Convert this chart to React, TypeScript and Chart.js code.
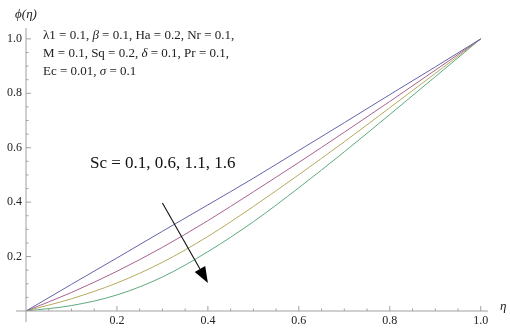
import React, { useEffect, useRef } from "react";
import { Chart, registerables } from "chart.js";

Chart.register(...registerables);

const eta = [0, 0.1, 0.2, 0.3, 0.4, 0.5, 0.6, 0.7, 0.8, 0.9, 1.0];
const phiSc01 = [0, 0.098, 0.195, 0.293, 0.39, 0.488, 0.59, 0.692, 0.795, 0.897, 1.0];
const phiSc06 = [0, 0.068, 0.146, 0.234, 0.332, 0.438, 0.546, 0.657, 0.77, 0.885, 1.0];
const phiSc11 = [0, 0.045, 0.103, 0.179, 0.274, 0.384, 0.501, 0.622, 0.747, 0.873, 1.0];
const phiSc16 = [0, 0.02, 0.059, 0.125, 0.218, 0.328, 0.453, 0.585, 0.722, 0.861, 1.0];

const xTickLabels = [0.2, 0.4, 0.6, 0.8, 1.0];
const yTickLabels = [0.2, 0.4, 0.6, 0.8, 1.0];

const paramLines = [
  "λ1 = 0.1, β = 0.1, Ha = 0.2, Nr = 0.1,",
  "M = 0.1, Sq = 0.2, δ = 0.1, Pr = 0.1,",
  "Ec = 0.01, σ = 0.1",
];
const scLabel = "Sc = 0.1, 0.6, 1.1, 1.6";
const arrowStart = { x: 0.3, y: 0.397 };
const arrowEnd = { x: 0.4, y: 0.103 };

const colors = ["#6464aa", "#a86290", "#b4aa5e", "#5caa7c"];

const serif = "'Liberation Serif', 'DejaVu Serif', serif";
const italicChars = "βδσ";

const decorPlugin = {
  id: "decor",
  afterDatasetsDraw(chart: any) {
    const { ctx, scales } = chart;
    const xs = scales.x;
    const ys = scales.y;
    const x0 = xs.getPixelForValue(0);
    const y0 = ys.getPixelForValue(0);
    ctx.save();
    // axes
    ctx.strokeStyle = "#a0a0a0";
    ctx.lineWidth = 1;
    ctx.beginPath();
    ctx.moveTo(x0 - 10, y0);
    ctx.lineTo(xs.right, y0);
    ctx.moveTo(x0, y0 + 11);
    ctx.lineTo(x0, ys.top);
    ctx.stroke();
    // ticks (inward)
    ctx.beginPath();
    for (let i = 1; i <= 20; i++) {
      const v = i * 0.05;
      const major = i % 4 === 0;
      const len = major ? 5 : 2.5;
      const px = xs.getPixelForValue(v);
      ctx.moveTo(px, y0);
      ctx.lineTo(px, y0 - len);
      const py = ys.getPixelForValue(v);
      ctx.moveTo(x0, py);
      ctx.lineTo(x0 + len, py);
    }
    ctx.stroke();

    // axis titles
    ctx.fillStyle = "#222";
    ctx.font = `italic 13px ${serif}`;
    ctx.textAlign = "center";
    ctx.textBaseline = "alphabetic";
    ctx.fillText("ϕ(η)", x0, 18);
    ctx.textAlign = "left";
    ctx.fillText("η", 500, 310);

    // parameter text (Greek symbols italic)
    paramLines.forEach((t, i) => {
      let x = 43;
      const y = 39 + i * 18;
      for (const ch of t) {
        ctx.font = italicChars.includes(ch) ? `italic 13px ${serif}` : `13px ${serif}`;
        ctx.fillText(ch, x, y);
        x += ctx.measureText(ch).width;
      }
    });

    // Sc label
    ctx.font = `17px ${serif}`;
    ctx.fillStyle = "#111";
    ctx.fillText(scLabel, 90, 168);

    // arrow
    const sx = xs.getPixelForValue(arrowStart.x);
    const sy = ys.getPixelForValue(arrowStart.y);
    const ex = xs.getPixelForValue(arrowEnd.x);
    const ey = ys.getPixelForValue(arrowEnd.y);
    const ang = Math.atan2(ey - sy, ex - sx);
    const headLen = 16;
    const headW = 6;
    const bx = ex - headLen * Math.cos(ang);
    const by = ey - headLen * Math.sin(ang);
    ctx.strokeStyle = "#111";
    ctx.lineWidth = 1.1;
    ctx.beginPath();
    ctx.moveTo(sx, sy);
    ctx.lineTo(bx, by);
    ctx.stroke();
    ctx.fillStyle = "#000";
    ctx.beginPath();
    ctx.moveTo(ex, ey);
    ctx.lineTo(bx + headW * Math.sin(ang), by - headW * Math.cos(ang));
    ctx.lineTo(bx - headW * Math.sin(ang), by + headW * Math.cos(ang));
    ctx.closePath();
    ctx.fill();
    ctx.restore();
  },
};

export default function App() {
  const ref = useRef<HTMLCanvasElement>(null);
  useEffect(() => {
    if (!ref.current) return;
    const series = [phiSc01, phiSc06, phiSc11, phiSc16];
    const chart = new Chart(ref.current, {
      type: "line",
      data: {
        datasets: series.map((s, i) => ({
          label: `Sc${i}`,
          data: eta.map((x, j) => ({ x, y: s[j] })),
          borderColor: colors[i],
          borderWidth: 1,
          pointRadius: 0,
          fill: false,
          cubicInterpolationMode: "monotone" as const,
        })),
      },
      options: {
        responsive: false,
        animation: false,
        layout: { padding: { left: 0, top: 28, right: 22, bottom: 0 } },
        plugins: { legend: { display: false }, tooltip: { enabled: false } },
        scales: {
          x: {
            type: "linear",
            min: 0,
            max: 1.016,
            border: { display: false },
            grid: { display: false, drawTicks: false },
            afterFit: (s: any) => {
              s.height = 25;
            },
            afterBuildTicks: (s: any) => {
              s.ticks = xTickLabels.map((v) => ({ value: v }));
            },
            ticks: {
              padding: 3,
              color: "#222",
              font: { family: serif, size: 12 },
              callback: (v: any) => Number(v).toFixed(1),
              maxRotation: 0,
            },
          },
          y: {
            type: "linear",
            min: 0,
            max: 1.04,
            border: { display: false },
            grid: { display: false, drawTicks: false },
            afterFit: (s: any) => {
              s.width = 26;
            },
            afterBuildTicks: (s: any) => {
              s.ticks = yTickLabels.map((v) => ({ value: v }));
            },
            ticks: {
              padding: 4,
              color: "#222",
              font: { family: serif, size: 12 },
              callback: (v: any) => Number(v).toFixed(1),
            },
          },
        },
      },
      plugins: [decorPlugin],
    });
    return () => chart.destroy();
  }, []);
  return (
    <div style={{ position: "fixed", left: 0, top: 0, width: 510, height: 336, background: "#fff" }}>
      <canvas ref={ref} width={510} height={336} />
    </div>
  );
}
